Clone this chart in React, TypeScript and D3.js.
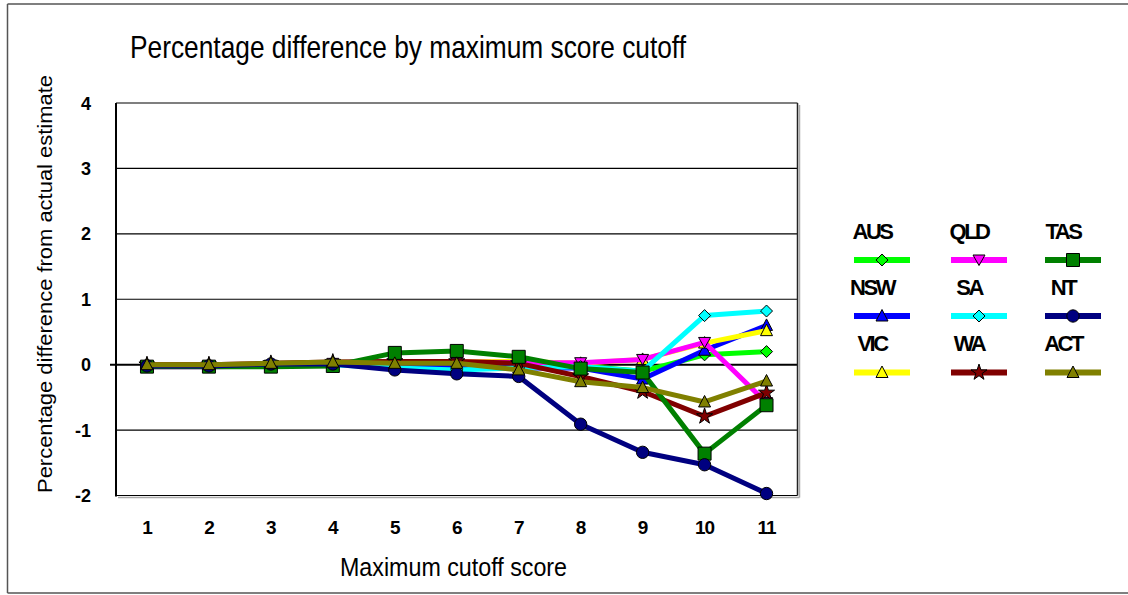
import React from "react";
import * as d3 from "d3";

const categories = ["1", "2", "3", "4", "5", "6", "7", "8", "9", "10", "11"];
const yTicks = [-2, -1, 0, 1, 2, 3, 4];

const AUS = [-0.02, -0.02, 0.0, 0.02, 0.05, 0.05, 0.03, -0.02, -0.1, 0.15, 0.2];
const NSW = [-0.02, -0.02, -0.01, 0.01, -0.03, -0.05, -0.05, -0.05, -0.22, 0.22, 0.6];
const VIC = [0.0, 0.0, 0.01, 0.03, 0.03, 0.05, 0.05, 0.02, 0.08, 0.33, 0.52];
const QLD = [-0.03, -0.03, -0.02, 0.02, 0.05, 0.04, 0.03, 0.03, 0.08, 0.34, -0.58];
const SA = [-0.02, -0.02, -0.02, 0.0, -0.05, -0.08, -0.05, -0.03, -0.1, 0.75, 0.82];
const WA = [0.0, 0.0, 0.02, 0.04, 0.05, 0.05, 0.02, -0.18, -0.41, -0.79, -0.43];
const TAS = [-0.03, -0.03, -0.03, -0.02, 0.18, 0.21, 0.12, -0.06, -0.12, -1.36, -0.62];
const NT = [-0.02, -0.02, 0.01, 0.01, -0.08, -0.14, -0.18, -0.91, -1.34, -1.53, -1.97];
const ACT = [0.0, 0.0, 0.02, 0.04, 0.02, 0.02, -0.08, -0.26, -0.35, -0.57, -0.25];

type Series = { name: string; values: number[]; color: string; marker: string };

// Excel series order (legend laid out row-major in 3 columns)
const series: Series[] = [
  { name: "AUS", values: AUS, color: "#00ff00", marker: "diamond" },
  { name: "NSW", values: NSW, color: "#0000ff", marker: "triangle" },
  { name: "VIC", values: VIC, color: "#ffff00", marker: "triangle" },
  { name: "QLD", values: QLD, color: "#ff00ff", marker: "triangleDown" },
  { name: "SA", values: SA, color: "#00ffff", marker: "diamond" },
  { name: "WA", values: WA, color: "#800000", marker: "star" },
  { name: "TAS", values: TAS, color: "#008000", marker: "square" },
  { name: "NT", values: NT, color: "#000080", marker: "circle" },
  { name: "ACT", values: ACT, color: "#808000", marker: "triangle" },
];
const legendOrder = ["AUS", "QLD", "TAS", "NSW", "SA", "NT", "VIC", "WA", "ACT"];

const FONT = "'Liberation Sans', Arial, sans-serif";

function markerPath(kind: string): string {
  switch (kind) {
    case "diamond":
      return "M0,-6L6,0L0,6L-6,0Z";
    case "triangle":
      return "M0,-6.5L6,5L-6,5Z";
    case "triangleDown":
      return "M0,5.5L-6,-5L6,-5Z";
    case "square":
      return "M-6.5,-6.5H6.5V6.5H-6.5Z";
    case "circle":
      return d3.symbol(d3.symbolCircle, 120)() as string;
    case "star":
      return d3.symbol(d3.symbolStar, 80)() as string;
    default:
      return d3.symbol(d3.symbolCircle, 60)() as string;
  }
}

export default function App() {
  const W = 1128;
  const H = 595;
  const left = 116;
  const right = 797.5;
  const top = 103;
  const bottom = 495.5;

  const x = d3.scaleBand<string>().domain(categories).range([left, right]);
  const y = d3.scaleLinear().domain([-2, 4]).range([bottom, top]);
  const cx = (c: string) => (x(c) as number) + x.bandwidth() / 2;

  const line = d3
    .line<number>()
    .x((_, i) => cx(categories[i]))
    .y((v) => y(v));

  const legendCols = [882, 979, 1073];
  const legendRowLine = [260, 316, 372.5];
  const legendRowText = [239, 295, 351];

  return (
    <svg
      width={W}
      height={H}
      style={{ position: "absolute", left: 0, top: 0, background: "#fff" }}
      fontFamily={FONT}
    >
      <rect x={0} y={0} width={W} height={H} fill="#fff" />
      {/* outer chart border */}
      <line x1={7.5} y1={4} x2={W} y2={4} stroke="#555" strokeWidth={1.5} />
      <line x1={7.5} y1={4} x2={7.5} y2={593} stroke="#555" strokeWidth={1.5} />
      <line x1={7.5} y1={593} x2={W} y2={593} stroke="#555" strokeWidth={1.5} />

      {/* title */}
      <text x={130} y={58} fontSize={32} textLength={556} lengthAdjust="spacingAndGlyphs" fill="#000">
        Percentage difference by maximum score cutoff
      </text>

      {/* plot shadow */}
      <line x1={left + 2} y1={bottom + 2} x2={right + 2} y2={bottom + 2} stroke="#aaa" strokeWidth={1.5} />
      <line x1={right + 2} y1={top + 2} x2={right + 2} y2={bottom + 2} stroke="#aaa" strokeWidth={1.5} />

      {/* gridlines */}
      {yTicks.map((t) => (
        <line
          key={"g" + t}
          x1={t === 0 ? left - 6 : left}
          x2={right}
          y1={y(t)}
          y2={y(t)}
          stroke="#000"
          strokeWidth={t === 0 ? 2 : 1.2}
        />
      ))}
      <line x1={right} y1={top} x2={right} y2={bottom} stroke="#222" strokeWidth={1.5} />
      <line x1={left} y1={top} x2={left} y2={bottom + 1} stroke="#000" strokeWidth={2} />

      {/* y tick labels */}
      {yTicks.map((t) => (
        <text
          key={"yt" + t}
          x={91}
          y={y(t) + 6.5}
          textAnchor="end"
          fontSize={18}
          fontWeight="bold"
          fill="#000"
        >
          {t}
        </text>
      ))}

      {/* x tick labels */}
      {categories.map((c) => (
        <text
          key={"xt" + c}
          x={cx(c)}
          y={534}
          textAnchor="middle"
          fontSize={19}
          fontWeight="bold"
          letterSpacing={-1}
          fill="#000"
        >
          {c}
        </text>
      ))}

      {/* axis titles */}
      <text
        x={453.5}
        y={576}
        textAnchor="middle"
        fontSize={26}
        textLength={227}
        lengthAdjust="spacingAndGlyphs"
        fill="#000"
      >
        Maximum cutoff score
      </text>
      <text
        transform={`translate(52,284) rotate(-90)`}
        textAnchor="middle"
        fontSize={21}
        textLength={418}
        lengthAdjust="spacingAndGlyphs"
        fill="#000"
      >
        Percentage difference from actual estimate
      </text>

      {/* series */}
      {series.map((s) => (
        <g key={s.name}>
          <path d={line(s.values) as string} fill="none" stroke={s.color} strokeWidth={5} strokeLinejoin="round" />
          {s.values.map((v, i) => (
            <path
              key={i}
              d={markerPath(s.marker)}
              transform={`translate(${cx(categories[i])},${y(v)})`}
              fill={s.color}
              stroke="#000"
              strokeWidth={1}
            />
          ))}
        </g>
      ))}

      {/* legend */}
      {legendOrder.map((name, k) => {
        const s = series.find((d) => d.name === name) as Series;
        const col = k % 3;
        const row = Math.floor(k / 3);
        const lx = legendCols[col];
        const ly = legendRowLine[row];
        return (
          <g key={"lg" + name}>
            <text
              x={lx - 10}
              y={legendRowText[row]}
              textAnchor="middle"
              fontSize={22}
              fontWeight="bold"
              letterSpacing={-2.5}
              fill="#000"
            >
              {name}
            </text>
            <line x1={lx - 28} x2={lx + 28} y1={ly} y2={ly} stroke={s.color} strokeWidth={6} />
            <path d={markerPath(s.marker)} transform={`translate(${lx},${ly})`} fill={s.color} stroke="#000" strokeWidth={1} />
          </g>
        );
      })}
    </svg>
  );
}
